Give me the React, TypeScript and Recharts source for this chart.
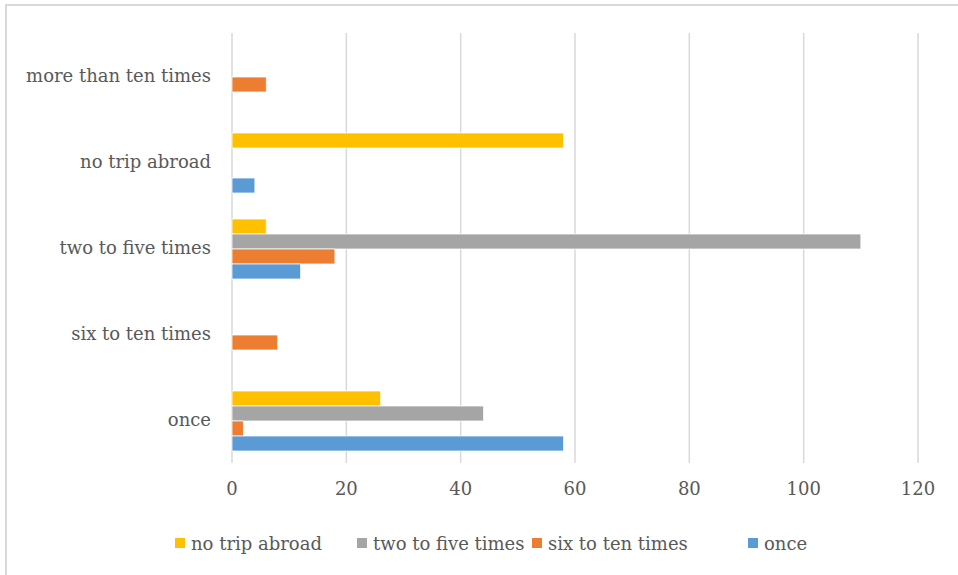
import React from "react";
import {
  BarChart,
  Bar,
  XAxis,
  YAxis,
  CartesianGrid,
  Legend,
} from "recharts";

// Categories, listed top to bottom as drawn
const categories = [
  "more than ten times",
  "no trip abroad",
  "two to five times",
  "six to ten times",
  "once",
];

// Series values, one entry per category (same order as above)
const noTripAbroad = [0, 58, 6, 0, 26];
const twoToFiveTimes = [0, 0, 110, 0, 44];
const sixToTenTimes = [6, 0, 18, 8, 2];
const once = [0, 4, 12, 0, 58];

const xTicks = [0, 20, 40, 60, 80, 100, 120];

const series = [
  { key: "noTrip", name: "no trip abroad", color: "#FFC000" },
  { key: "twoFive", name: "two to five times", color: "#A5A5A5" },
  { key: "sixTen", name: "six to ten times", color: "#ED7D31" },
  { key: "once", name: "once", color: "#5B9BD5" },
];

// Left edge of each legend swatch
const legendX = [175, 357, 532, 748];

const data = categories.map((name, i) => ({
  name,
  noTrip: noTripAbroad[i],
  twoFive: twoToFiveTimes[i],
  sixTen: sixToTenTimes[i],
  once: once[i],
}));

const FONT = "'DejaVu Serif', 'Liberation Serif', serif";
const FONT_SIZE = 18;
const TEXT = "#595959";
const GRID = "#d9d9d9";

const renderLegend = () => (
  <div
    style={{
      position: "relative",
      height: 26,
      fontFamily: FONT,
      fontSize: FONT_SIZE,
      color: TEXT,
    }}
  >
    {series.map((s, i) => (
      <div
        key={s.key}
        style={{
          position: "absolute",
          left: legendX[i],
          top: 0,
          height: 26,
          display: "flex",
          alignItems: "center",
          whiteSpace: "nowrap",
        }}
      >
        <span
          style={{
            display: "inline-block",
            width: 10,
            height: 10,
            background: s.color,
            marginRight: 6,
          }}
        />
        <span>{s.name}</span>
      </div>
    ))}
  </div>
);

export default function App() {
  return (
    <div
      style={{
        position: "absolute",
        left: 0,
        top: 0,
        width: 958,
        height: 575,
        overflow: "hidden",
        background: "#fff",
      }}
    >
      <div
        style={{
          position: "absolute",
          left: 5,
          top: 4,
          width: 970,
          height: 590,
          border: `2px solid ${GRID}`,
          boxSizing: "border-box",
        }}
      />
      <BarChart
        width={958}
        height={575}
        data={data}
        layout="vertical"
        margin={{ top: 33, right: 40, left: 0, bottom: 62 }}
        barCategoryGap={14}
        barGap={0}
      >
        <CartesianGrid horizontal={false} stroke={GRID} strokeWidth={1.5} />
        <XAxis
          type="number"
          domain={[0, 120]}
          ticks={xTicks}
          height={50}
          axisLine={false}
          tickLine={false}
          tickSize={0}
          tickMargin={19}
          tick={{ fill: TEXT, fontFamily: FONT, fontSize: FONT_SIZE }}
        />
        <YAxis
          type="category"
          dataKey="name"
          width={232}
          axisLine={false}
          tickLine={false}
          tickSize={0}
          tickMargin={21}
          tick={{ fill: TEXT, fontFamily: FONT, fontSize: FONT_SIZE }}
        />
        <Legend
          verticalAlign="middle"
          align="center"
          layout="horizontal"
          wrapperStyle={{ top: 530, left: 0, width: 958 }}
          content={renderLegend}
        />
        {series.map((s) => (
          <Bar
            key={s.key}
            dataKey={s.key}
            name={s.name}
            fill={s.color}
            stroke="#fff"
            strokeWidth={0.75}
            isAnimationActive={false}
          />
        ))}
      </BarChart>
    </div>
  );
}
